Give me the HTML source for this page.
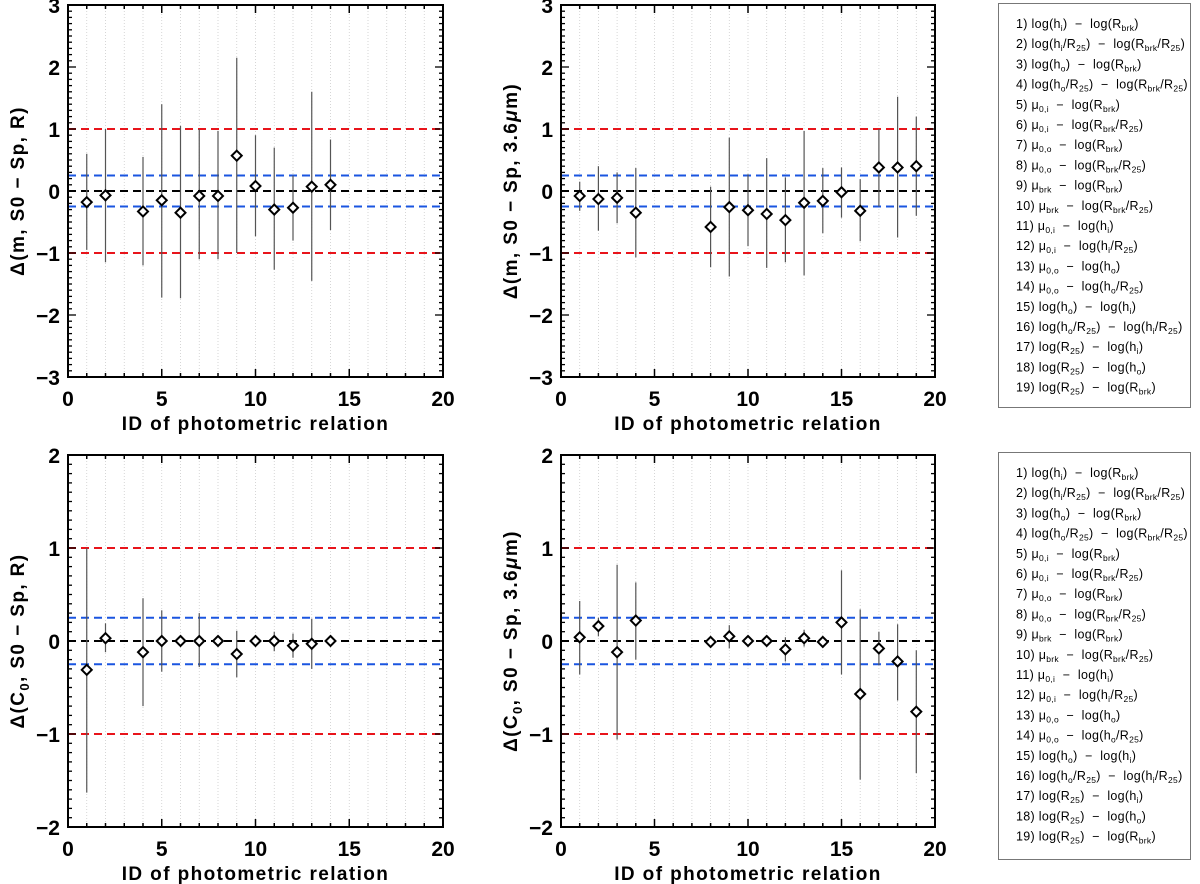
<!DOCTYPE html>
<html><head><meta charset="utf-8">
<style>
body{margin:0;background:#fff;}
svg{display:block;}
.tk{font-family:"Liberation Sans",sans-serif;font-weight:bold;font-size:21px;fill:#000;}
.at{font-family:"Liberation Sans",sans-serif;font-weight:bold;font-size:19px;fill:#000;letter-spacing:1.4px;}
.lg{font-family:"Liberation Sans",sans-serif;font-size:12.5px;fill:#000;letter-spacing:0.3px;}
</style></head>
<body>
<svg id="fig" width="1200" height="884" viewBox="0 0 1200 884" xmlns="http://www.w3.org/2000/svg">
<g id="legend1"><rect x="998.5" y="3.5" width="192" height="404" fill="#fff" stroke="#777" stroke-width="1"/></g>
<g id="legend2"><rect x="998.5" y="452.5" width="192" height="407" fill="#fff" stroke="#777" stroke-width="1"/></g>
</svg>
<script>
// ---- data ----
const idsTL = [1,2,4,5,6,7,8,9,10,11,12,13,14];
const valTL = [-0.18,-0.07,-0.33,-0.15,-0.35,-0.08,-0.08,0.57,0.08,-0.30,-0.27,0.07,0.10];
const hiTL  = [0.60,1.00,0.55,1.40,1.05,1.00,0.97,2.15,0.90,0.70,0.25,1.60,0.83];
const loTL  = [-0.95,-1.15,-1.20,-1.72,-1.73,-1.10,-1.10,-1.00,-0.73,-1.27,-0.80,-1.45,-0.63];

const idsTR = [1,2,3,4,8,9,10,11,12,13,14,15,16,17,18,19];
const valTR = [-0.08,-0.13,-0.11,-0.35,-0.58,-0.26,-0.31,-0.37,-0.47,-0.19,-0.16,-0.02,-0.32,0.38,0.38,0.40];
const hiTR  = [0.15,0.40,0.30,0.37,0.07,0.86,0.27,0.53,0.22,0.97,0.37,0.38,0.19,1.00,1.52,1.20];
const loTR  = [-0.32,-0.64,-0.52,-1.07,-1.23,-1.38,-0.89,-1.24,-1.15,-1.36,-0.68,-0.43,-0.81,-0.25,-0.75,-0.40];

const idsBL = [1,2,4,5,6,7,8,9,10,11,12,13,14];
const valBL = [-0.31,0.03,-0.12,0.00,0.00,0.00,0.00,-0.14,0.00,0.00,-0.05,-0.03,0.00];
const hiBL  = [1.00,0.19,0.46,0.33,0.01,0.30,0.01,0.11,0.01,0.10,0.08,0.24,0.01];
const loBL  = [-1.63,-0.12,-0.70,-0.33,-0.01,-0.28,-0.01,-0.39,-0.01,-0.11,-0.18,-0.30,-0.01];

const idsBR = [1,2,3,4,8,9,10,11,12,13,14,15,16,17,18,19];
const valBR = [0.04,0.16,-0.12,0.22,-0.01,0.05,0.00,0.00,-0.09,0.03,-0.01,0.20,-0.57,-0.08,-0.22,-0.76];
const hiBR  = [0.43,0.25,0.82,0.63,0.01,0.17,0.01,0.01,0.04,0.12,0.01,0.76,0.34,0.10,0.18,-0.10];
const loBR  = [-0.36,0.05,-1.06,-0.20,-0.02,-0.08,-0.01,-0.01,-0.22,-0.06,-0.02,-0.36,-1.49,-0.26,-0.64,-1.42];

const xTicks = [0,5,10,15,20];
const refLines = [1,0.25,0,-0.25,-1];
const legendItems = [
 'log(h<sub>i</sub>) − log(R<sub>brk</sub>)',
 'log(h<sub>i</sub>/R<sub>25</sub>) − log(R<sub>brk</sub>/R<sub>25</sub>)',
 'log(h<sub>o</sub>) − log(R<sub>brk</sub>)',
 'log(h<sub>o</sub>/R<sub>25</sub>) − log(R<sub>brk</sub>/R<sub>25</sub>)',
 'μ<sub>0,i</sub> − log(R<sub>brk</sub>)',
 'μ<sub>0,i</sub> − log(R<sub>brk</sub>/R<sub>25</sub>)',
 'μ<sub>0,o</sub> − log(R<sub>brk</sub>)',
 'μ<sub>0,o</sub> − log(R<sub>brk</sub>/R<sub>25</sub>)',
 'μ<sub>brk</sub> − log(R<sub>brk</sub>)',
 'μ<sub>brk</sub> − log(R<sub>brk</sub>/R<sub>25</sub>)',
 'μ<sub>0,i</sub> − log(h<sub>i</sub>)',
 'μ<sub>0,i</sub> − log(h<sub>i</sub>/R<sub>25</sub>)',
 'μ<sub>0,o</sub> − log(h<sub>o</sub>)',
 'μ<sub>0,o</sub> − log(h<sub>o</sub>/R<sub>25</sub>)',
 'log(h<sub>o</sub>) − log(h<sub>i</sub>)',
 'log(h<sub>o</sub>/R<sub>25</sub>) − log(h<sub>i</sub>/R<sub>25</sub>)',
 'log(R<sub>25</sub>) − log(h<sub>i</sub>)',
 'log(R<sub>25</sub>) − log(h<sub>o</sub>)',
 'log(R<sub>25</sub>) − log(R<sub>brk</sub>)'
];

const NS = 'http://www.w3.org/2000/svg';
const svg = document.getElementById('fig');
function mk(tag, attrs, parent){
  const e = document.createElementNS(NS, tag);
  for (const k in attrs) e.setAttribute(k, attrs[k]);
  (parent||svg).appendChild(e);
  return e;
}

function panel(name, L, T, W, H, ymax, ids, vals, hi, lo, ylab){
  const g = mk('g', {});
  
  
  const xs = v => L + v/20*W;
  const ys = v => T + (ymax - v)/(2*ymax)*H;
  for (let i=1;i<20;i++){
    const gl = mk('line',{x1:xs(i),x2:xs(i),y1:T,y2:T+H,stroke:'#ccc','stroke-width':0.8,'stroke-dasharray':'1,2'},g);
    
    
  }
  refLines.forEach(r=>{
    const c = Math.abs(r)===1 ? '#e8141b' : (r===0 ? '#000' : '#1a55e0');
    const rl = mk('line',{x1:L,x2:L+W,y1:ys(r),y2:ys(r),stroke:c,'stroke-width':2,'stroke-dasharray':'8,5'},g);
    
    
  });
  ids.forEach((id,i)=>{
    const eb = mk('line',{x1:xs(id),x2:xs(id),y1:ys(hi[i]),y2:ys(lo[i]),stroke:'#555','stroke-width':1.2},g);
    
    
  });
  ids.forEach((id,i)=>{
    const x=xs(id), y=ys(vals[i]), s=5;
    const pt = mk('polygon',{points:`${x},${y-s} ${x+s},${y} ${x},${y+s} ${x-s},${y}`,fill:'#fff',stroke:'#000','stroke-width':2},g);
    
    
  });
  const fr = mk('rect',{x:L,y:T,width:W,height:H,fill:'none',stroke:'#000','stroke-width':2},g);
  
  
  for (let i=0;i<=20;i++){
    const len = i%5===0 ? 8 : 4;
    mk('line',{x1:xs(i),x2:xs(i),y1:T+H,y2:T+H-len,stroke:'#000','stroke-width':1.5},g);
    mk('line',{x1:xs(i),x2:xs(i),y1:T,y2:T+len,stroke:'#000','stroke-width':1.5},g);
  }
  xTicks.forEach(t=>{
    const tl = mk('text',{x:xs(t),y:T+H+29,'text-anchor':'middle',class:'tk'},g);
    tl.textContent = t;
    
    
  });
  for (let k=-ymax*10;k<=ymax*10;k++){
    const v=k/10, len = k%10===0 ? 8 : 4;
    mk('line',{x1:L,x2:L+len,y1:ys(v),y2:ys(v),stroke:'#000','stroke-width':1.3},g);
    mk('line',{x1:L+W,x2:L+W-len,y1:ys(v),y2:ys(v),stroke:'#000','stroke-width':1.3},g);
  }
  for (let v=-ymax; v<=ymax; v++){
    const tl = mk('text',{x:L-8,y:ys(v)+8,'text-anchor':'end',class:'tk'},g);
    tl.textContent = (v<0 ? '\u2212'+(-v) : String(v));
    
    
  }
  const xt = mk('text',{x:L+W/2,y:T+H+53,'text-anchor':'middle',class:'at'},g);
  xt.textContent = 'ID of photometric relation';
  
  
  const yt = mk('text',{x:0,y:0,'text-anchor':'middle',class:'at',transform:`translate(${L-44},${T+H/2}) rotate(-90)`},g);
  yt.innerHTML = ylab;
  
  
}

panel('panel-top-left', 68, 5, 375, 372, 3, idsTL, valTL, hiTL, loTL, 'Δ(m, S0 − Sp, R)');
panel('panel-top-right', 561, 5, 374, 372, 3, idsTR, valTR, hiTR, loTR, 'Δ(m, S0 − Sp, 3.6<tspan font-style="italic">μ</tspan>m)');
panel('panel-bottom-left', 68, 455, 375, 372, 2, idsBL, valBL, hiBL, loBL, 'Δ(C<tspan font-size="13" dy="5">0</tspan><tspan dy="-5">, S0 − Sp, R)</tspan>');
panel('panel-bottom-right', 561, 455, 374, 372, 2, idsBR, valBR, hiBR, loBR, 'Δ(C<tspan font-size="13" dy="5">0</tspan><tspan dy="-5">, S0 − Sp, 3.6</tspan><tspan font-style="italic">μ</tspan>m)');

function legend(gid, y0){
  const g = document.getElementById(gid);
  legendItems.forEach((s,i)=>{
    const t = mk('text',{x:1016,y:y0+i*20.2,class:'lg'},g);
    const html = (i+1)+') ' + s.replace(/ − /g,'  −  ').replace(/<sub>(.*?)<\/sub>/g,'<tspan font-size="8.5" dy="3">$1</tspan><tspan dy="-3">\u200b</tspan>');
    t.innerHTML = html;
    t.setAttribute('xml:space','preserve');
    t.style.whiteSpace = 'pre';
    
    
  });
}
legend('legend1', 28);
legend('legend2', 477);
</script>
</body></html>
